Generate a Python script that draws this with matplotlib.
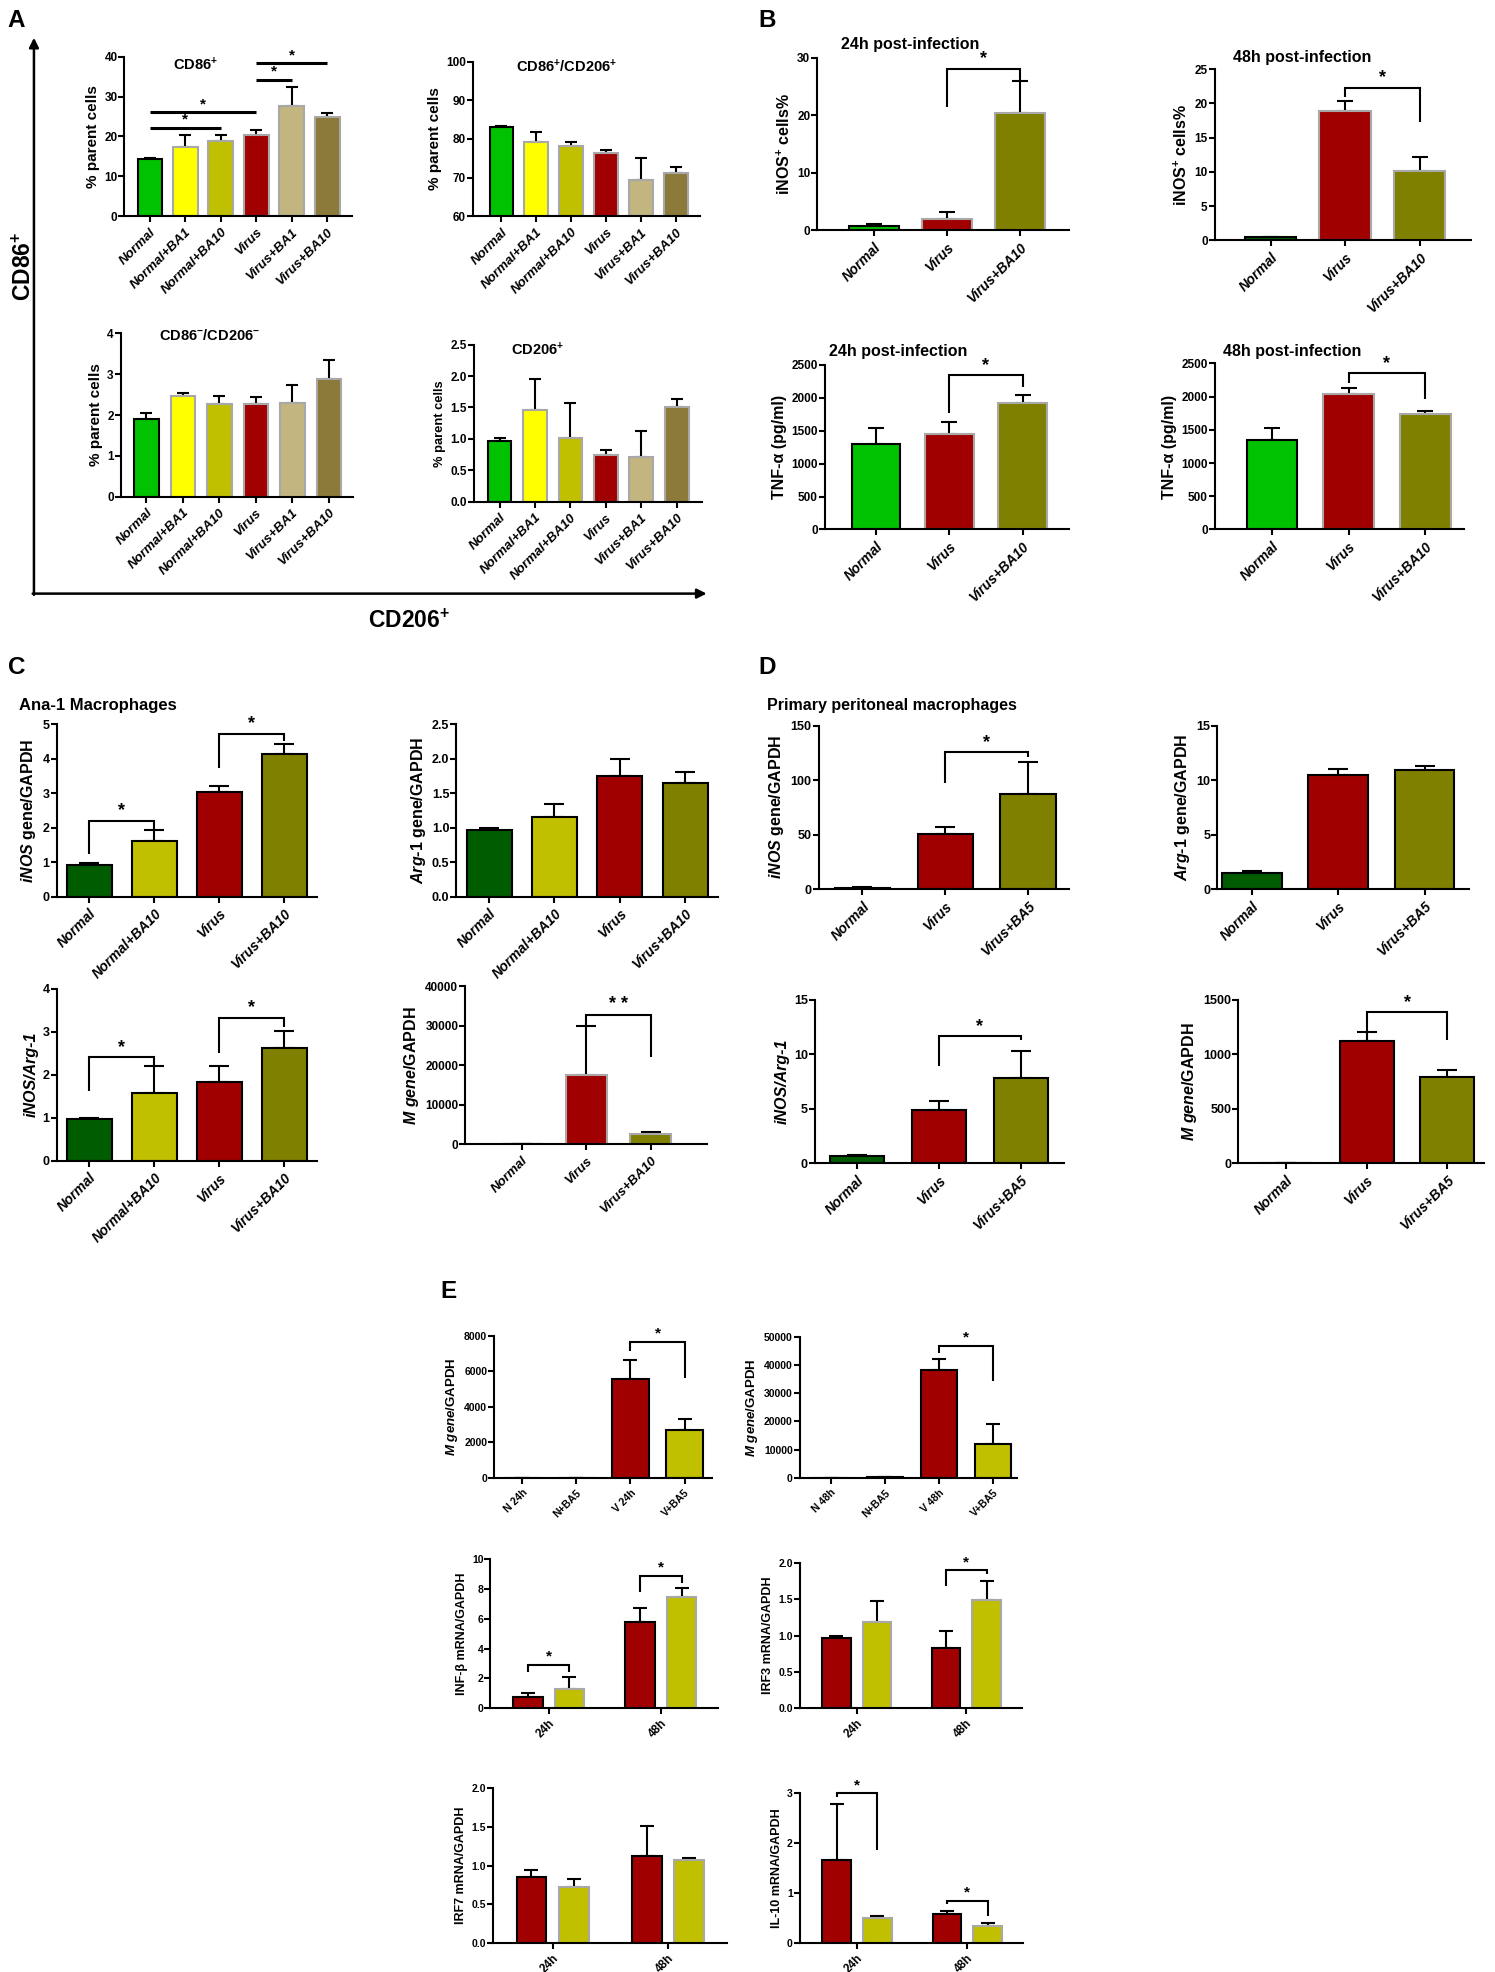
import numpy as np
import matplotlib
matplotlib.use('Agg')
import matplotlib.pyplot as plt
from matplotlib.ticker import FormatStrFormatter

FONT = ['Liberation Sans', 'DejaVu Sans']
plt.rcParams['font.family'] = FONT
plt.rcParams['font.weight'] = 'bold'
plt.rcParams['axes.labelweight'] = 'bold'
plt.rcParams['mathtext.fontset'] = 'custom'
plt.rcParams['mathtext.rm'] = 'Liberation Sans:bold'
plt.rcParams['mathtext.it'] = 'Liberation Sans:italic:bold'
plt.rcParams['mathtext.bf'] = 'Liberation Sans:bold'
plt.rcParams['axes.linewidth'] = 1.5

# ------------------------- data -------------------------
a_groups = ['Normal', 'Normal+BA1', 'Normal+BA10', 'Virus', 'Virus+BA1', 'Virus+BA10']
a_cd86 = [14.3, 17.3, 18.9, 20.4, 27.7, 24.8]
a_cd86_err = [0.4, 3.1, 1.4, 1.2, 4.6, 1.0]
a_dp = [83.1, 79.1, 78.1, 76.3, 69.5, 71.2]
a_dp_err = [0.3, 2.7, 1.1, 0.8, 5.5, 1.6]
a_dn = [1.90, 2.46, 2.26, 2.27, 2.30, 2.87]
a_dn_err = [0.14, 0.07, 0.20, 0.17, 0.43, 0.47]
a_cd206 = [0.96, 1.46, 1.01, 0.745, 0.71, 1.50]
a_cd206_err = [0.06, 0.49, 0.56, 0.08, 0.42, 0.14]

b_groups = ['Normal', 'Virus', 'Virus+BA10']
b_inos24 = [0.8, 1.9, 20.4]
b_inos24_err = [0.25, 1.2, 5.5]
b_inos48 = [0.4, 18.9, 10.1]
b_inos48_err = [0.1, 1.5, 2.0]
b_tnf24 = [1300, 1445, 1920]
b_tnf24_err = [240, 180, 125]
b_tnf48 = [1345, 2035, 1735]
b_tnf48_err = [180, 100, 50]

c_groups = ['Normal', 'Normal+BA10', 'Virus', 'Virus+BA10']
c_inos = [0.93, 1.62, 3.03, 4.14]
c_inos_err = [0.06, 0.33, 0.17, 0.29]
c_arg = [0.97, 1.15, 1.75, 1.65]
c_arg_err = [0.03, 0.20, 0.25, 0.16]
c_ratio = [0.96, 1.58, 1.84, 2.62]
c_ratio_err = [0.03, 0.61, 0.36, 0.40]
c_m_groups = ['Normal', 'Virus', 'Virus+BA10']
c_m = [0, 17600, 2600]
c_m_err = [0, 12250, 600]

d_groups = ['Normal', 'Virus', 'Virus+BA5']
d_inos = [1.5, 50.5, 87.0]
d_inos_err = [0.3, 6.7, 29.5]
d_arg = [1.46, 10.5, 10.9]
d_arg_err = [0.2, 0.5, 0.4]
d_ratio = [0.67, 4.88, 7.84]
d_ratio_err = [0.05, 0.8, 2.43]
d_m = [0, 1125, 793]
d_m_err = [0, 76, 61]

e_m24_groups = ['N 24h', 'N+BA5', 'V 24h', 'V+BA5']
e_m24 = [0, 0, 5560, 2670]
e_m24_err = [0, 0, 1070, 660]
e_m48_groups = ['N 48h', 'N+BA5', 'V 48h', 'V+BA5']
e_m48 = [0, 150, 38300, 11900]
e_m48_err = [0, 0, 3900, 7200]
e_times = ['24h', '48h']
e_ifnb_v = [0.74, 5.80]
e_ifnb_v_err = [0.29, 0.94]
e_ifnb_ba = [1.30, 7.44]
e_ifnb_ba_err = [0.77, 0.63]
e_irf3_v = [0.97, 0.83]
e_irf3_v_err = [0.02, 0.23]
e_irf3_ba = [1.19, 1.49]
e_irf3_ba_err = [0.29, 0.26]
e_irf7_v = [0.86, 1.12]
e_irf7_v_err = [0.09, 0.40]
e_irf7_ba = [0.73, 1.07]
e_irf7_ba_err = [0.10, 0.03]
e_il10_v = [1.67, 0.58]
e_il10_v_err = [1.11, 0.07]
e_il10_ba = [0.51, 0.34]
e_il10_ba_err = [0.03, 0.07]

# significance annotations: (bar i, bar j, top level, left leg end, right leg end, text)
sig_a1 = [(0, 2, 22.2, 22.2, 22.2, '*'), (0, 3, 26.0, 26.0, 26.0, '*'),
          (3, 4, 34.1, 34.1, 34.1, '*'), (3, 5, 38.3, 38.3, 38.3, '*')]
sig_b1 = [(1, 2, 28.1, 21.4, 26.2, '*')]
sig_b2 = [(1, 2, 22.3, 21.0, 17.3, '*')]
sig_b3 = [(1, 2, 2340, 1760, 2160, '*')]
sig_b4 = [(1, 2, 2350, 2200, 1965, '*')]
sig_c1 = [(0, 1, 2.21, 1.24, 1.92, '*'), (2, 3, 4.73, 3.74, 4.53, '*')]
sig_c3 = [(0, 1, 2.41, 1.61, 2.21, '*'), (2, 3, 3.32, 2.51, 3.10, '*')]
sig_c4 = [(1, 2, 32800, 29700, 22070, '* *')]
sig_d1 = [(1, 2, 125.6, 97.7, 121.0, '*')]
sig_d3 = [(1, 2, 11.65, 8.93, 11.28, '*')]
sig_d4 = [(1, 2, 1387, 1122, 1134, '*')]
sig_e1 = [(2, 3, 7624, 7117, 5615, '*')]
sig_e2 = [(2, 3, 46800, 44440, 34400, '*')]
sig_e3 = [(0, 1, 2.88, 2.43, 2.43, '*'), (2, 3, 8.88, 7.82, 8.43, '*')]
sig_e4 = [(2, 3, 1.90, 1.69, 1.85, '*')]
sig_e6 = [(0, 1, 3.0, 2.93, 1.87, '*'), (2, 3, 0.85, 0.78, 0.545, '*')]

# ------------------------- styles -------------------------
GREEN = '#00C200'
DKGREEN = '#005C00'
YEL = '#FFFF00'
YOL = '#C0C000'
RED = '#A00000'
TAN = '#C3B57F'
BRN = '#8C7A3A'
OLV = '#808000'
GRY = '#A8A8A8'
K = 'black'

W, H = 1189.0, 1568.0
fig = plt.figure(figsize=(14.95, 19.72), dpi=100)
ov = fig.add_axes([0, 0, 1, 1], zorder=-5)
ov.set_xlim(0, W)
ov.set_ylim(H, 0)
ov.axis('off')


def add_ax(box):
    l, t, r, b = box
    return fig.add_axes([l / W, 1 - b / H, (r - l) / W, (b - t) / H])


def brackets(ax, xpos, specs, lw=1.5, fs=13):
    for i, j, top, yl, yr, s in specs:
        x1, x2 = xpos[i], xpos[j]
        ax.plot([x1, x1, x2, x2], [yl, top, top, yr], color='black', lw=lw,
                clip_on=False, solid_joinstyle='miter', solid_capstyle='butt')
        ax.annotate(s, ((x1 + x2) / 2, top), xytext=(0, 1), textcoords='offset points',
                    ha='center', va='bottom', fontsize=fs)


def bar_panel(box, means, errs, colors, edges, ylim, yticks, yfmt, ylabel,
              xlim, width, ticklabels, xpos=None, ticks=None, tick_fs=8.5,
              xt_fs=10, yl_fs=11, italic=True, cap=4, sig=None, sig_lw=1.5,
              sig_fs=13, title=None, title_xy=None, title_fs=10.5, lw=1.5,
              yl_style='normal'):
    ax = add_ax(box)
    x = np.arange(len(means)) if xpos is None else np.asarray(xpos, float)
    ax.bar(x, means, width, color=colors, edgecolor=edges, linewidth=lw, zorder=2)
    ax.errorbar(x, means, yerr=[np.zeros(len(x)), errs], fmt='none', ecolor='black',
                elinewidth=1.5, capsize=cap, capthick=1.5, zorder=1)
    ax.set_xlim(*xlim)
    ax.set_ylim(*ylim)
    ax.set_yticks(yticks)
    ax.yaxis.set_major_formatter(FormatStrFormatter(yfmt))
    t = x if ticks is None else ticks
    ax.set_xticks(t)
    ax.set_xticklabels(ticklabels, rotation=45, ha='right', va='top',
                       rotation_mode='anchor', fontsize=xt_fs,
                       fontstyle='italic' if italic else 'normal')
    ax.tick_params(axis='both', direction='out', length=4, width=1.5)
    ax.tick_params(axis='y', labelsize=tick_fs, pad=1)
    ax.tick_params(axis='x', pad=3)
    ax.spines[['top', 'right']].set_visible(False)
    ax.set_ylabel(ylabel, fontsize=yl_fs, labelpad=3, fontstyle=yl_style)
    ax.patch.set_alpha(0)
    if sig:
        brackets(ax, x, sig, lw=sig_lw, fs=sig_fs)
    if title:
        ax.text(title_xy[0], title_xy[1], title, transform=ax.transAxes,
                ha='center', va='center', fontsize=title_fs)
    return ax


# ------------------------- Panel A -------------------------
a_cols = [GREEN, YEL, YOL, RED, TAN, BRN]
a_edges = [K, GRY, GRY, GRY, GRY, GRY]
A_XL = (-0.72, 5.7)
bar_panel((99, 45, 280, 172), a_cd86, a_cd86_err, a_cols, a_edges, (0, 40),
          [0, 10, 20, 30, 40], '%d', '% parent cells', A_XL, 0.7, a_groups,
          tick_fs=8.5, xt_fs=9.5, yl_fs=11, sig=sig_a1, sig_lw=2.2, sig_fs=11,
          title='CD86$^{+}$', title_xy=(0.31, 0.95), title_fs=10.5)
bar_panel((376, 49, 557, 172), a_dp, a_dp_err, a_cols, a_edges, (60, 100),
          [60, 70, 80, 90, 100], '%d', '% parent cells', (-0.82, 5.7), 0.68, a_groups,
          tick_fs=8.5, xt_fs=9.5, yl_fs=11,
          title='CD86$^{+}$/CD206$^{+}$', title_xy=(0.41, 0.97), title_fs=10.5)
bar_panel((96, 265, 281, 395), a_dn, a_dn_err, a_cols, a_edges, (0, 4),
          [0, 1, 2, 3, 4], '%d', '% parent cells', (-0.7, 5.67), 0.67, a_groups,
          tick_fs=8.5, xt_fs=9.5, yl_fs=11,
          title='CD86$^{-}$/CD206$^{-}$', title_xy=(0.38, 0.985), title_fs=10.5)
bar_panel((377, 274, 558, 399), a_cd206, a_cd206_err, a_cols, a_edges, (0, 2.5),
          [0, 0.5, 1.0, 1.5, 2.0, 2.5], '%.1f', '% parent cells', A_XL, 0.67, a_groups,
          tick_fs=8.5, xt_fs=9.5, yl_fs=9.3,
          title='CD206$^{+}$', title_xy=(0.28, 0.97), title_fs=10.5)

ov.annotate('', xy=(27, 30), xytext=(27, 473),
            arrowprops=dict(arrowstyle='-|>', lw=1.8, color='black', mutation_scale=14,
                            shrinkA=0, shrinkB=0))
ov.annotate('', xy=(562, 472), xytext=(26, 472),
            arrowprops=dict(arrowstyle='-|>', lw=1.8, color='black', mutation_scale=14,
                            shrinkA=0, shrinkB=0))
ov.text(19, 212, 'CD86$^{+}$', rotation=90, ha='center', va='center', fontsize=16.5)
ov.text(325, 494, 'CD206$^{+}$', ha='center', va='center', fontsize=16.5)

# ------------------------- Panel B -------------------------
b_edges = [K, GRY, GRY]
bar_panel((650, 46, 850, 183), b_inos24, b_inos24_err, [GREEN, RED, OLV], b_edges,
          (0, 30), [0, 10, 20, 30], '%d', 'iNOS$^{+}$ cells%', (-0.78, 2.67), 0.68, b_groups,
          tick_fs=8.5, xt_fs=10, yl_fs=11.5, sig=sig_b1, cap=6,
          title='24h post-infection', title_xy=(0.37, 1.08), title_fs=11.5)
bar_panel((966, 55, 1170, 191), b_inos48, b_inos48_err, [DKGREEN, RED, OLV], b_edges,
          (0, 25), [0, 5, 10, 15, 20, 25], '%d', 'iNOS$^{+}$ cells%', (-0.75, 2.69), 0.69,
          b_groups, tick_fs=8.5, xt_fs=10, yl_fs=11.5, sig=sig_b2, cap=6,
          title='48h post-infection', title_xy=(0.34, 1.07), title_fs=11.5)
bar_panel((656, 290, 850, 421), b_tnf24, b_tnf24_err, [GREEN, RED, OLV], b_edges,
          (0, 2500), [0, 500, 1000, 1500, 2000, 2500], '%d', 'TNF-α (pg/ml)', (-0.7, 2.63),
          0.66, b_groups, tick_fs=8.5, xt_fs=10, yl_fs=11.5, sig=sig_b3, cap=6,
          title='24h post-infection', title_xy=(0.30, 1.08), title_fs=11.5)
bar_panel((966, 289, 1164, 421), b_tnf48, b_tnf48_err, [GREEN, RED, OLV], b_edges,
          (0, 2500), [0, 500, 1000, 1500, 2000, 2500], '%d', 'TNF-α (pg/ml)', (-0.75, 2.5),
          0.66, b_groups, tick_fs=8.5, xt_fs=10, yl_fs=11.5, sig=sig_b4, cap=6,
          title='48h post-infection', title_xy=(0.31, 1.07), title_fs=11.5)

# ------------------------- Panel C -------------------------
c_cols = [DKGREEN, YOL, RED, OLV]
C_XL = (-0.5, 3.5)
bar_panel((45, 576, 252, 713), c_inos, c_inos_err, c_cols, K, (0, 5),
          [0, 1, 2, 3, 4, 5], '%d', '$\\mathit{iNOS}$ gene/GAPDH', C_XL, 0.69, c_groups,
          tick_fs=9, xt_fs=10, yl_fs=11.5, sig=sig_c1, cap=7)
bar_panel((363, 576, 571, 713), c_arg, c_arg_err, c_cols, K, (0, 2.5),
          [0, 0.5, 1.0, 1.5, 2.0, 2.5], '%.1f', '$\\mathit{Arg}$-$\\mathit{1}$ gene/GAPDH',
          C_XL, 0.69, c_groups, tick_fs=9, xt_fs=10, yl_fs=11.5, cap=7)
bar_panel((45, 786, 252, 923), c_ratio, c_ratio_err, c_cols, K, (0, 4),
          [0, 1, 2, 3, 4], '%d', 'iNOS/Arg-1', C_XL, 0.69, c_groups,
          tick_fs=9, xt_fs=10, yl_fs=11.5, sig=sig_c3, cap=7, yl_style='italic')
bar_panel((370, 784, 562, 910), c_m, c_m_err, [DKGREEN, RED, OLV], [K, GRY, GRY], (0, 40000),
          [0, 10000, 20000, 30000, 40000], '%d', '$\\mathit{M\\ gene}$/GAPDH',
          (-0.88, 2.87), 0.63, c_m_groups, tick_fs=8.5, xt_fs=9.5, yl_fs=11.5, sig=sig_c4,
          cap=7)
ov.text(15, 561, 'Ana-1 Macrophages', ha='left', va='center', fontsize=12)

# ------------------------- Panel D -------------------------
d_cols = [DKGREEN, RED, OLV]
bar_panel((651, 577, 850, 707), d_inos, d_inos_err, d_cols, K, (0, 150),
          [0, 50, 100, 150], '%d', '$\\mathit{iNOS}$ gene/GAPDH', (-0.53, 2.49), 0.67,
          d_groups, tick_fs=9, xt_fs=10, yl_fs=11.5, sig=sig_d1, cap=7)
bar_panel((968, 577, 1168, 707), d_arg, d_arg_err, d_cols, K, (0, 15),
          [0, 5, 10, 15], '%d', '$\\mathit{Arg}$-$\\mathit{1}$ gene/GAPDH', (-0.4, 2.51),
          0.69, d_groups, tick_fs=9, xt_fs=10, yl_fs=11.5, cap=7)
bar_panel((648, 795, 846, 925), d_ratio, d_ratio_err, d_cols, K, (0, 15),
          [0, 5, 10, 15], '%d', 'iNOS/Arg-1', (-0.51, 2.52), 0.66, d_groups,
          tick_fs=9, xt_fs=10, yl_fs=11.5, sig=sig_d3, cap=7, yl_style='italic')
bar_panel((985, 795, 1180, 925), d_m, d_m_err, d_cols, K, (0, 1500),
          [0, 500, 1000, 1500], '%d', '$\\mathit{M\\ gene}$/GAPDH', (-0.59, 2.45), 0.67,
          d_groups, tick_fs=9, xt_fs=10, yl_fs=11.5, sig=sig_d4, cap=7)
ov.text(610, 561, 'Primary peritoneal macrophages', ha='left', va='center', fontsize=11.5)

# ------------------------- Panel E -------------------------
e_cols4 = [RED, YOL, RED, YOL]
bar_panel((393, 1062, 566, 1175), e_m24, e_m24_err, e_cols4, K, (0, 8000),
          [0, 2000, 4000, 6000, 8000], '%d', '$\\mathit{M\\ gene}$/GAPDH', (-0.52, 3.5), 0.68,
          e_m24_groups, tick_fs=7.5, xt_fs=7.5, yl_fs=9.5, italic=False, sig=sig_e1,
          sig_fs=11, cap=5)
bar_panel((636, 1063, 809, 1175), e_m48, e_m48_err, e_cols4, K, (0, 50000),
          [0, 10000, 20000, 30000, 40000, 50000], '%d', '$\\mathit{M\\ gene}$/GAPDH',
          (-0.57, 3.45), 0.67, e_m48_groups, tick_fs=7.5, xt_fs=7.5, yl_fs=9.5,
          italic=False, sig=sig_e2, sig_fs=11, cap=5)

g = np.arange(len(e_times))
e_pos = [g[0] - 0.185, g[0] + 0.185, g[1] - 0.185, g[1] + 0.185]


def grouped(box, v, ve, b, be, ylim, yticks, yfmt, ylabel, sig=None):
    means = [v[0], b[0], v[1], b[1]]
    errs = [ve[0], be[0], ve[1], be[1]]
    return bar_panel(box, means, errs, [RED, YOL, RED, YOL], [K, GRY, K, GRY], ylim,
                     yticks, yfmt, ylabel, (-0.52, 1.51), 0.26, e_times, xpos=e_pos,
                     ticks=g, tick_fs=7.5, xt_fs=8.5, yl_fs=9, italic=False, sig=sig,
                     sig_fs=11, cap=5)


grouped((390, 1240, 571, 1358), e_ifnb_v, e_ifnb_v_err, e_ifnb_ba, e_ifnb_ba_err,
        (0, 10), [0, 2, 4, 6, 8, 10], '%d', 'INF-β mRNA/GAPDH', sig_e3)
grouped((636, 1243, 813, 1358), e_irf3_v, e_irf3_v_err, e_irf3_ba, e_irf3_ba_err,
        (0, 2.0), [0, 0.5, 1.0, 1.5, 2.0], '%.1f', 'IRF3 mRNA/GAPDH', sig_e4)
grouped((392, 1422, 578, 1545), e_irf7_v, e_irf7_v_err, e_irf7_ba, e_irf7_ba_err,
        (0, 2.0), [0, 0.5, 1.0, 1.5, 2.0], '%.1f', 'IRF7 mRNA/GAPDH')
grouped((636, 1426, 814, 1545), e_il10_v, e_il10_v_err, e_il10_ba, e_il10_ba_err,
        (0, 3), [0, 1, 2, 3], '%d', 'IL-10 mRNA/GAPDH', sig_e6)

# panel letters
for letter, (px, py) in zip('ABCDE', [(6, 16), (603, 16), (6, 531), (603, 531), (350, 1027)]):
    ov.text(px, py, letter, ha='left', va='center', fontsize=17.5)

fig.savefig('out.png', dpi=100)
